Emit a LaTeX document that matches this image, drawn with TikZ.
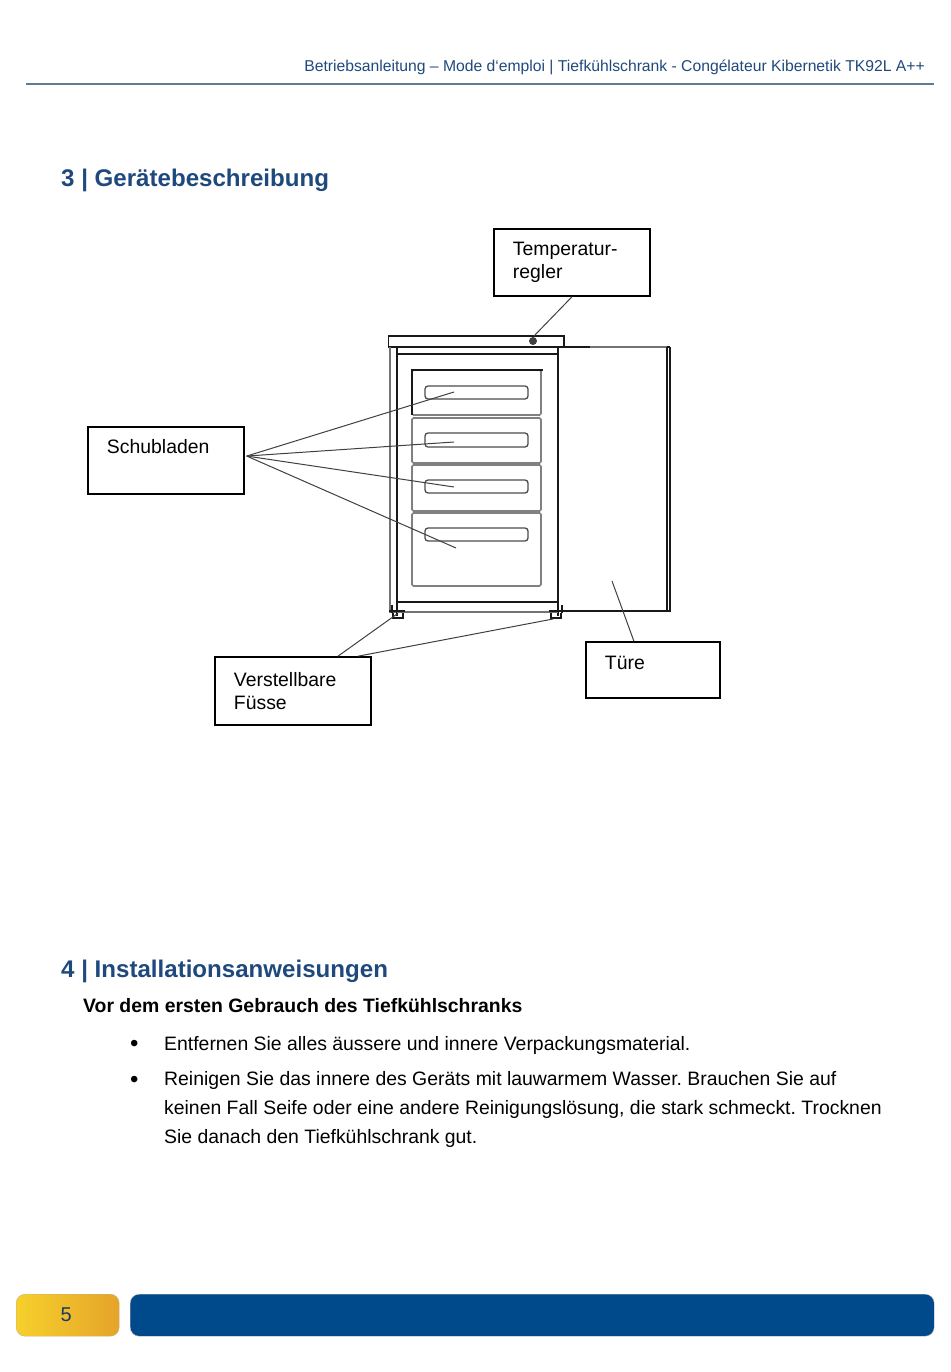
\documentclass[tikz,border=0pt]{standalone}
\usepackage{fontspec}
\setmainfont{Liberation Sans}
\usetikzlibrary{positioning}
\definecolor{headblue}{HTML}{1F497D}
\definecolor{barblue}{HTML}{004A8C}
\definecolor{rulegrey}{HTML}{5F7C92}
\definecolor{goldleft}{HTML}{F6D02C}
\definecolor{goldright}{HTML}{E5A42A}
\definecolor{goldedge}{HTML}{C9B07A}
\frenchspacing
\tikzset{
	labelbox/.style={
		rectangle,
		draw=black, line width=1.5pt,
		anchor=north west,
		inner xsep=19pt,
		inner ysep=9pt,
		text width=118pt,
		minimum height=67pt,
		align=left,
		font=\fontsize{19.4}{22.6}\selectfont},
	leader/.style={draw, line width=1pt, black!75},
	heading/.style={anchor=base west, inner sep=0pt, text=headblue, font=\fontsize{24.1}{29}\selectfont\bfseries},
	bodytext/.style={anchor=base west, inner sep=0pt, align=left, font=\fontsize{19.4}{29}\selectfont},
	bulletmark/.style={anchor=base west, inner sep=0pt, font=\fontsize{24}{29}\selectfont},
	carcass/.style={draw, line width=1.4pt, black!90},
	greyline/.style={draw, line width=2pt, black!55},
	drawerbox/.style={draw=black!50, line width=1.7pt, rounded corners=1.5pt},
	handlebox/.style={draw=black!70, line width=1.3pt, rounded corners=3pt},
}
\begin{document}
\begin{tikzpicture}[x=1pt,y=-1pt]
	\useasboundingbox (0,0) rectangle (950,1372);

	% page header
	\node[anchor=base east, inner sep=0pt, text=headblue, font=\fontsize{15.7}{19}\selectfont] (header) at (925,72)
	{Betriebsanleitung – Mode d‘emploi | Tiefkühlschrank - Congélateur Kibernetik TK92L A++};
	\draw[rulegrey, line width=1.4pt] (26,84) -- (934,84);

	\node[heading] (title3) at (61,187) {3 | Gerätebeschreibung};

	% the freezer
	\draw[carcass] (388.5,336) rectangle (564,347);
	\draw[greyline] (389.5,347) -- (389.5,612) -- (397,612);
	\draw[carcass] (397,347) -- (397,616);
	\draw[carcass] (558,347) -- (558,616);
	\draw[carcass] (397,354) -- (558,354);
	\draw[carcass] (397,602) -- (558,602);
	\draw[greyline] (397,612) -- (558,612);
	\draw[carcass] (389,611) -- (405,611);
	\draw[carcass] (549,611) -- (563,611);
	\draw[carcass] (392,605) -- (392,613);
	\draw[carcass] (562,605) -- (562,613);
	\draw[carcass] (393,613) -- (393,618) -- (403,618) -- (403,613);
	\draw[carcass] (551,613) -- (551,618) -- (561,618) -- (561,613);
	\fill[black!75] (533,341) circle (4pt);

	% the door
	\draw[carcass] (564,347) -- (590,347);
	\draw[greyline] (590,347) -- (667,347);
	\draw[carcass] (667,347) -- (667,611) -- (558,611);
	\draw[carcass] (670,347) -- (670,611) -- (667,611);
	\draw[carcass] (667,347) -- (670,347);

	% drawers
	\draw[drawerbox] (412,370) rectangle (541,415);
	\draw[drawerbox] (412,418) rectangle (541,463);
	\draw[drawerbox] (412,465) rectangle (541,511);
	\draw[drawerbox] (412,513) rectangle (541,586);
	\draw[black!90, line width=2pt] (411,370) -- (543,370);
	\draw[carcass] (412,370) -- (412,415);
	\draw[handlebox] (425,386) rectangle (528,399);
	\draw[handlebox] (425,433) rectangle (528,447);
	\draw[handlebox] (425,480) rectangle (528,493);
	\draw[handlebox] (425,528) rectangle (528,541);

	% labels
	\node[labelbox] (temp) at (493.2,228.3) {Temperatur-\\regler};
	\node[labelbox, inner ysep=12pt, text depth=28pt] (schub) at (87.2,426.3) {Schubladen};
	\node[labelbox, minimum height=68pt] (fuss) at (214.2,656.2) {Verstellbare\\Füsse};
	\node[labelbox, minimum height=56pt, text width=96pt, inner ysep=14pt, text depth=14pt] (tuere) at (585.2,641.3) {Türe};

	\coordinate (knob) at (534,336);
	\coordinate (drawer1) at (454,392);
	\coordinate (drawer2) at (454,442);
	\coordinate (drawer3) at (454,487);
	\coordinate (drawer4) at (456,548);
	\coordinate (footleft) at (397,614);
	\coordinate (footright) at (553,619);
	\coordinate (doorpoint) at (612,581);

	\draw[leader] (temp.south) -- (knob);
	\draw[leader] ([xshift=2pt,yshift=4.5pt]schub.east) -- (drawer1);
	\draw[leader] ([xshift=2pt,yshift=4.5pt]schub.east) -- (drawer2);
	\draw[leader] ([xshift=2pt,yshift=4.5pt]schub.east) -- (drawer3);
	\draw[leader] ([xshift=2pt,yshift=4.5pt]schub.east) -- (drawer4);
	\draw[leader] ([xshift=45pt]fuss.north) -- (footleft);
	\draw[leader] ([xshift=65pt]fuss.north) -- (footright);
	\draw[leader] ([xshift=-19pt]tuere.north) -- (doorpoint);

	% second section
	\node[heading] (title4) at (61,977) {4 | Installationsanweisungen};
	\node[bodytext, font=\fontsize{19.4}{29}\selectfont\bfseries] (before) at (83,1012.5) {Vor dem ersten Gebrauch des Tiefkühlschranks};
	\node[bulletmark] (bullet1) at (130,1051) {•};
	\node[bodytext] (item1) at (164,1050) {Entfernen Sie alles äussere und innere Verpackungsmaterial.};
	\node[bulletmark] (bullet2) at (130,1087) {•};
	\node[bodytext, anchor=north west] (item2) at (164,1071) {Reinigen Sie das innere des Geräts mit lauwarmem Wasser. Brauchen Sie auf\\keinen Fall Seife oder eine andere Reinigungslösung, die stark schmeckt. Trocknen\\Sie danach den Tiefkühlschrank gut.};

	% footer bars
	\node[draw=goldedge, rounded corners=9pt, left color=goldleft, right color=goldright, minimum width=103pt, minimum height=42pt, inner sep=0pt, anchor=north west, text=headblue!80!black, font=\fontsize{20}{23}\selectfont] (pageno) at (16,1294) {\raisebox{-1pt}{5\hspace{3pt}}};
	\node[fill=barblue, draw=black!25, rounded corners=9pt, minimum width=804pt, minimum height=42pt, anchor=north west] (bar) at (130,1294) {};
\end{tikzpicture}
\end{document}
